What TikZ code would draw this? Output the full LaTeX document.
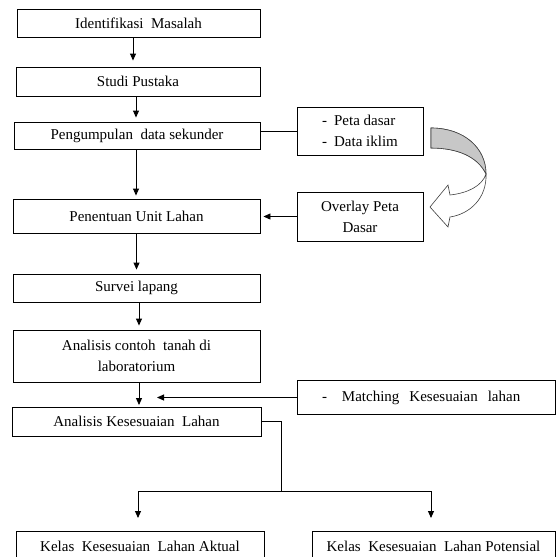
\documentclass[tikz,border=0pt]{standalone}
\usepackage{fontspec}
\setmainfont{Liberation Serif}
\usetikzlibrary{arrows.meta}
\begin{document}
\begin{tikzpicture}[x=1pt,y=-1pt,
  box/.style={draw, line width=0.9pt, inner sep=0pt, align=center, font=\fontsize{15}{21}\selectfont},
  arr/.style={-{Triangle[length=7pt,width=6pt]}, line width=0.9pt},
  conn/.style={line width=0.9pt},
  curvedarrow/.style={draw=black!75, line width=0.6pt}]
\useasboundingbox (0,0) rectangle (557,557);
\clip (0,0) rectangle (557,557);
% main column
\node[box, minimum width=243pt, minimum height=28pt] (b1) at (138.5,23) {Identifikasi\ \ Masalah};
\node[box, minimum width=244pt, minimum height=29pt] (b2) at (138,81.5) {Studi Pustaka};
\node[box, minimum width=246pt, minimum height=27pt] (b3) at (137,135.5) {Pengumpulan\ \ data sekunder};
\node[box, minimum width=247pt, minimum height=34pt] (b4) at (136.5,216) {Penentuan Unit Lahan};
\node[box, minimum width=247pt, minimum height=28pt] (b5) at (136.5,288) {Survei lapang};
\node[box, minimum width=247pt, minimum height=52pt] (b6) at (136.5,356) {Analisis contoh\ \ tanah di\\laboratorium};
\node[box, minimum width=249pt, minimum height=29pt] (b7) at (136.5,421.5) {Analisis Kesesuaian\ \ Lahan};
\node[box, minimum width=248pt, minimum height=30pt] (b8) at (140,546) {Kelas\ \ Kesesuaian\ \ Lahan Aktual};
\node[box, minimum width=243pt, minimum height=30pt] (b9) at (433.5,546) {Kelas\ \ Kesesuaian\ \ Lahan Potensial};
% side boxes
\node[box, minimum width=126pt, minimum height=48pt, align=left] (p1) at (360,131) {-\hspace{7pt}Peta dasar\\-\hspace{7pt}Data iklim};
\node[box, minimum width=126pt, minimum height=49pt] (p2) at (360,216.5) {Overlay Peta\\Dasar};
\node[box, text width=208pt, inner xsep=25pt, align=left, minimum height=34pt] (m) at (426,397.5) {-\hspace{15pt}Matching\ \ Kesesuaian\ \ lahan};
% vertical arrows
\draw[arr] ([xshift=-5.5pt]b1.south) -- ([xshift=-5.5pt,yshift=6pt]b1.south |- b2.north);
\draw[arr] ([xshift=-2pt]b2.south) -- ([xshift=-2pt,yshift=4pt]b2.south |- b3.north);
\draw[arr] ([xshift=-1pt]b3.south) -- ([xshift=-1pt,yshift=3pt]b3.south |- b4.north);
\draw[arr] (b4.south) -- ([yshift=4pt]b4.south |- b5.north);
\draw[arr] ([xshift=2.5pt]b5.south) -- ([xshift=2.5pt,yshift=4pt]b5.south |- b6.north);
\draw[arr] ([xshift=2.5pt]b6.south) -- ([xshift=2.5pt,yshift=1.5pt]b6.south |- b7.north);
% side connectors
\draw[conn] (p1.west) -- (p1.west -| b3.east);
\draw[arr] (p2.west) -- ([xshift=3pt]p2.west -| b4.east);
\coordinate (mt) at (157,397.5);
\draw[arr] (m.west) -- (mt);
% split
\coordinate (j) at (281,491);
\coordinate (ta) at (138,518);
\coordinate (tb) at (431,518);
\draw[conn] (b7.east) -| (j);
\draw[arr] (j) -| (ta);
\draw[arr] (j) -| (tb);
% curved block arrow
\path[curvedarrow, fill=white]
  (431,128) .. controls (464,128) and (486,148) .. (486,174)
  .. controls (487,198) and (470,214) .. (450,217)
  -- (448,227) -- (430,207) -- (448,185) -- (450,195)
  .. controls (468,193) and (482,186) .. (486,174)
  .. controls (478,157) and (458,148) .. (431,148) -- cycle;
\path[curvedarrow, fill=black!22]
  (431,128) .. controls (464,128) and (486,148) .. (486,174)
  .. controls (478,157) and (458,148) .. (431,148) -- cycle;
\end{tikzpicture}
\end{document}
